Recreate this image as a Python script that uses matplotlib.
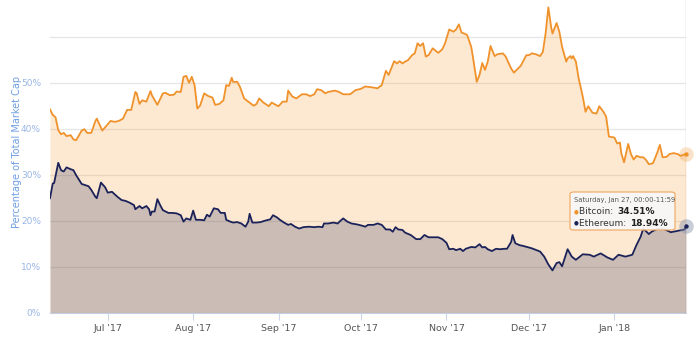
import datetime as dt
import matplotlib
matplotlib.use("Agg")
import matplotlib.pyplot as plt
import matplotlib.dates as mdates
from matplotlib.patches import FancyBboxPatch
from matplotlib.ticker import FixedLocator, FuncFormatter

start = dt.datetime(2017, 6, 10)

# days since start, share of total market cap (%)
btc_day = [0, 1, 2, 3, 4, 5, 6, 7.5, 8.5, 9.5, 11.5, 12.5, 13.5, 15, 16.5, 17, 19, 20,
           22, 23.5, 25, 26.5, 28, 29.5, 31, 31.5, 32.5, 33.5, 35, 36.5, 37, 39, 41, 42,
           43.5, 45, 46, 47.5, 48.5, 49.5, 50.5, 51.5, 52.5, 53.5, 54.5, 56, 57.5, 59, 60,
           61.5, 63, 64, 65, 66, 66.5, 68, 69, 70.5, 72, 74, 75, 76, 77.5, 79.5, 80.5, 82,
           83, 84.5, 86, 86.5, 88, 89.5, 91.5, 93, 94.5, 96, 97, 98.5, 100, 101, 103.5, 105,
           106.5, 109, 111, 113, 114.5, 117, 119, 120.5, 122, 123, 125, 126, 127, 128, 129,
           130, 131.5, 132.5, 133.5, 134.5, 135.5, 136.5, 137.5, 139, 140, 141, 142.5, 143.5,
           145, 146.5, 147.5, 148.5, 149.5, 150.5, 151.5, 153, 153.5, 155, 156, 157, 158, 159,
           160, 161.5, 162.5, 164.5, 165.5, 167.5, 168.5, 170, 171, 173, 174, 175, 176.5, 178,
           179, 180, 181, 182, 182.5, 184, 185, 186, 187.5, 188, 189, 189.5, 190, 191, 192,
           193.5, 194.5, 195.5, 197, 198.5, 199.5, 201, 202, 203, 205, 206, 207, 207.5, 208.5,
           210, 211, 212, 213, 214.5, 215.5, 216.5, 217.5, 219, 220.5, 221.5, 222.5, 224, 225,
           226.5, 228, 229, 231]
btc_pct = [44.2, 43.0, 42.5, 39.7, 38.8, 39.1, 38.4, 38.6, 37.7, 37.5, 39.6, 39.9, 39.1, 39.1,
           41.7, 42.2, 39.6, 40.3, 41.7, 41.5, 41.7, 42.2, 44.1, 44.1, 48.0, 47.7, 45.4, 46.2,
           45.9, 48.2, 47.3, 45.2, 47.7, 47.8, 47.3, 47.4, 48.1, 48.0, 51.3, 51.5, 50.0, 51.3,
           49.5, 44.4, 45.0, 47.7, 47.1, 46.8, 45.2, 45.4, 46.2, 49.5, 49.3, 51.1, 50.2, 50.2,
           49.1, 46.6, 45.9, 45.0, 45.4, 46.6, 45.7, 44.9, 45.7, 45.2, 44.9, 45.9, 45.9, 48.3,
           47.0, 46.6, 47.5, 47.5, 47.1, 47.5, 48.6, 48.4, 47.7, 48.0, 48.3, 48.0, 47.5, 47.5,
           48.4, 48.7, 49.2, 49.0, 48.8, 49.5, 52.6, 51.7, 54.7, 54.2, 54.7, 54.2, 54.6, 54.9,
           56.0, 56.4, 58.6, 58.0, 58.6, 55.7, 56.0, 57.5, 57.0, 56.5, 57.3, 58.6, 61.6, 61.1,
           61.6, 62.7, 60.9, 60.7, 60.4, 57.8, 56.0, 50.2, 51.7, 54.3, 52.8, 54.6, 58.0, 55.8,
           56.2, 56.4, 55.7, 53.1, 52.2, 53.1, 53.7, 56.0, 56.0, 56.4, 56.2, 55.8, 56.7, 60.7,
           66.4, 62.2, 60.7, 63.0, 61.1, 57.8, 54.6, 55.3, 55.8, 55.3, 55.8, 54.6, 51.0, 47.0,
           43.7, 44.9, 43.5, 43.3, 44.9, 43.7, 42.6, 38.3, 38.1, 36.8, 37.0, 34.7, 32.7, 36.7,
           34.5, 33.3, 34.1, 33.8, 33.8, 33.2, 32.3, 32.5, 34.7, 36.5, 33.8, 33.9, 34.5, 34.7,
           34.5, 34.1, 34.51]

eth_day = [0, 1, 1.5, 3, 4, 5, 6, 7.5, 8.5, 9.5, 11.5, 12.5, 14, 15, 16.5, 17, 18.5, 20, 21,
           22.5, 24.5, 26, 27.5, 29, 30.5, 31, 32.5, 33.5, 35, 36, 36.5, 37, 38, 39, 40, 41,
           43, 44.5, 46, 47.5, 48.5, 49.5, 51, 52, 53, 54.5, 56, 57, 58, 59.5, 61, 62, 63.5,
           64, 65.5, 66.5, 68, 69.5, 71, 72, 72.5, 73.5, 75, 76.5, 78, 80, 81, 82.5, 83.5, 85,
           86.5, 87.5, 89, 90.5, 92, 94, 96, 97.5, 99, 99.5, 101, 103, 104.5, 105.5, 106.5,
           108, 109.5, 111.5, 113.5, 114.5, 115.5, 117.5, 119, 120.5, 122, 123.5, 124.5, 125.5,
           126.5, 128, 129, 131, 133, 134.5, 136, 137.5, 139.5, 141, 142.5, 144, 145, 146.5,
           147.5, 149, 150, 151, 153, 154.5, 156, 157, 158, 159, 160.5, 162, 163.5, 165, 166,
           167.5, 168, 169, 170.5, 172, 175, 178, 179.5, 181, 182.5, 184, 185, 186, 188, 189.5,
           191, 193.5, 196, 197.5, 200, 202.5, 204.5, 206.5, 209, 211.5, 213, 214.5, 215.5,
           217.5, 218.5, 220.5, 223, 225.5, 228, 230.5, 231]
eth_pct = [24.9, 28.1, 28.2, 32.6, 31.0, 30.7, 31.6, 31.2, 31.0, 29.9, 28.0, 27.8, 27.5, 26.7,
           25.2, 24.9, 28.3, 27.3, 26.1, 26.3, 25.2, 24.5, 24.3, 23.9, 23.4, 22.5, 23.2, 22.7,
           23.2, 22.5, 21.2, 22.0, 22.0, 24.7, 23.4, 22.3, 21.7, 21.7, 21.6, 21.2, 19.8, 20.5,
           20.2, 22.2, 20.2, 20.2, 20.1, 21.3, 20.9, 22.7, 22.5, 21.7, 21.7, 20.2, 19.8, 19.6,
           19.7, 19.4, 18.7, 19.8, 21.5, 19.6, 19.6, 19.7, 20.0, 20.3, 21.2, 20.7, 20.2, 19.6,
           19.1, 19.3, 18.7, 18.3, 18.6, 18.7, 18.6, 18.7, 18.6, 19.4, 19.4, 19.6, 19.4, 20.0,
           20.5, 19.8, 19.4, 19.2, 18.9, 18.7, 19.1, 19.1, 19.4, 19.1, 18.1, 18.1, 17.6, 18.6,
           18.1, 18.0, 17.4, 16.9, 16.0, 16.0, 16.9, 16.4, 16.4, 16.4, 16.0, 15.2, 13.8, 13.9,
           13.6, 13.9, 13.4, 13.9, 14.3, 14.2, 14.9, 14.2, 14.3, 13.8, 13.4, 13.9, 13.8, 13.9,
           13.9, 15.4, 16.9, 15.1, 14.7, 14.5, 14.0, 13.3, 12.2, 10.5, 9.2, 10.8, 11.0, 10.1,
           13.8, 12.2, 11.5, 12.7, 12.6, 12.2, 12.9, 12.0, 11.5, 12.6, 12.2, 12.6, 14.7, 16.5,
           18.3, 17.1, 17.6, 18.2, 18.2, 17.5, 17.8, 18.1, 18.94]

month_ticks = ["2017-07-01", "2017-08-01", "2017-09-01", "2017-10-01",
               "2017-11-01", "2017-12-01", "2018-01-01"]
month_labels = ["Jul '17", "Aug '17", "Sep '17", "Oct '17", "Nov '17", "Dec '17", "Jan '18"]
pct_ticks = [0, 10, 20, 30, 40, 50, 60]

btc_color = "#f0922b"
eth_color = "#1b2259"

btc_dates = [start + dt.timedelta(days=d) for d in btc_day]
eth_dates = [start + dt.timedelta(days=d) for d in eth_day]

fig = plt.figure(figsize=(7, 3.38), dpi=100)
ax = fig.add_axes([50 / 700, 25.3 / 338, 636 / 700, 312.7 / 338])

ax.fill_between(btc_dates, btc_pct, 0, color="#f7931a", alpha=0.2, lw=0, zorder=2)
ax.fill_between(eth_dates, eth_pct, 0, color=eth_color, alpha=0.22, lw=0, zorder=3)
ax.plot(btc_dates, btc_pct, color=btc_color, lw=1.3, zorder=4)
ax.plot(eth_dates, eth_pct, color=eth_color, lw=1.3, zorder=5)

ax.set_xlim(start, btc_dates[-1])
ax.set_ylim(0, 68)

# hover crosshair and highlighted points on the last day
ax.axvline(btc_dates[-1], color="#cccccc", lw=1, zorder=1)
ax.scatter([btc_dates[-1]], [btc_pct[-1]], s=110, color=btc_color, alpha=0.25, lw=0,
           zorder=6, clip_on=False)
ax.scatter([btc_dates[-1]], [btc_pct[-1]], s=10, color=btc_color, lw=0, zorder=7, clip_on=False)
ax.scatter([eth_dates[-1]], [eth_pct[-1]], s=110, color="#8890a8", alpha=0.45, lw=0,
           zorder=6, clip_on=False)
ax.scatter([eth_dates[-1]], [eth_pct[-1]], s=10, color=eth_color, lw=0, zorder=7, clip_on=False)

# axes styling
for side in ["top", "right", "left"]:
    ax.spines[side].set_visible(False)
ax.spines["bottom"].set_color("#ccd6eb")
ax.yaxis.set_major_locator(FixedLocator(pct_ticks))
ax.yaxis.set_major_formatter(FuncFormatter(lambda v, p: "" if v >= 60 else f"{v:.0f}%"))
ax.tick_params(axis="y", length=0, pad=6.5, labelsize=6.5, labelcolor="#9ab6e6")
ax.grid(axis="y", color="#e6e6e6", lw=0.9, zorder=0)
ax.set_axisbelow(True)

ax.set_xticks([mdates.datestr2num(t) for t in month_ticks])
ax.set_xticklabels(month_labels)
ax.tick_params(axis="x", length=5, width=0.8, color="#ccd6eb", pad=3,
               labelsize=6.8, labelcolor="#555555")

fig.text(17 / 700, (338 - 152) / 338, "Percentage of Total Market Cap", color="#6f9fe3",
         fontsize=7, rotation=90, ha="center", va="center")

# tooltip
tip = FancyBboxPatch((570 / 700, (338 - 230) / 338), 105 / 700, 38 / 338,
                     boxstyle="round,pad=0,rounding_size=0.006", transform=fig.transFigure,
                     facecolor="#f8f8f8", edgecolor="#f0a862", lw=0.9, alpha=0.92, zorder=10)
fig.patches.append(tip)
fig.text(574 / 700, (338 - 200) / 338, "Saturday, Jan 27, 00:00-11:59", fontsize=4.9,
         color="#555555", va="center", zorder=11)

rows = [("Bitcoin: ", btc_pct[-1], btc_color, 212), ("Ethereum: ", eth_pct[-1], eth_color, 223)]
fig.canvas.draw()
renderer = fig.canvas.get_renderer()
for name, val, col, ypx in rows:
    fig.text(574 / 700, (338 - ypx) / 338, "\u25cf", fontsize=4, color=col,
             va="center", zorder=11)
    lab = fig.text(579 / 700, (338 - ypx) / 338, name, fontsize=6.5, color="#333333",
                   va="center", zorder=11)
    x1 = lab.get_window_extent(renderer).x1 / fig.bbox.width
    fig.text(x1 + 1 / 700, (338 - ypx) / 338, f"{val:.2f}%", fontsize=6.5,
             color="#222222", fontweight="bold", va="center", zorder=11)

fig.savefig("out.png", dpi=100)
